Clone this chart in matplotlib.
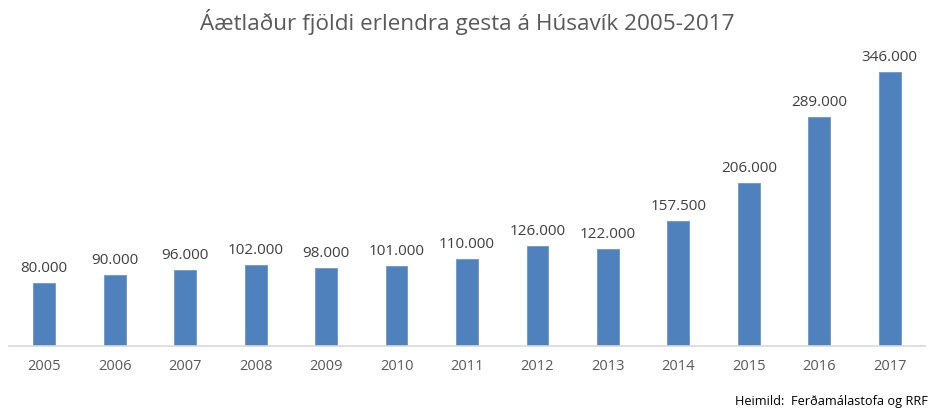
import matplotlib
matplotlib.use('Agg')
import matplotlib.pyplot as plt

# Data
years = ['2005', '2006', '2007', '2008', '2009', '2010', '2011',
         '2012', '2013', '2014', '2015', '2016', '2017']
visitors = [80000, 90000, 96000, 102000, 98000, 101000, 110000,
            126000, 122000, 157500, 206000, 289000, 346000]

plt.rcParams['font.family'] = ['Open Sans', 'DejaVu Sans']

fig = plt.figure(figsize=(9.29, 4.13), dpi=100)
ax = fig.add_axes([9 / 929, 67 / 413, 916 / 929, 301 / 413])

x = range(len(years))
bars = ax.bar(x, visitors, width=0.31, color='#4f81bd', edgecolor='#6d97cb', linewidth=0.6)

# Labels above bars (Icelandic thousands separator)
for xi, v in zip(x, visitors):
    lbl = f'{v:,}'.replace(',', '.')
    ax.annotate(lbl, (xi, v), xytext=(0, 5), textcoords='offset points',
                ha='center', va='bottom', fontsize=11, color='#404040')

ax.set_xlim(-0.5, len(years) - 0.5)
ax.set_ylim(0, 380000)
ax.set_xticks(list(x))
ax.set_xticklabels(years, fontsize=10.5, color='#595959')
ax.tick_params(axis='x', length=0, pad=9)
ax.set_yticks([])
for s in ['top', 'right', 'left']:
    ax.spines[s].set_visible(False)
ax.spines['bottom'].set_color('#d9d9d9')
ax.spines['bottom'].set_linewidth(1.2)

fig.text(0.503, 0.947, 'Áætlaður fjöldi erlendra gesta á Húsavík 2005-2017',
         ha='center', va='center', fontsize=16.2, color='#595959')
fig.text(0.999, 0.027, 'Heimild:  Ferðamálastofa og RRF', ha='right', va='center',
         fontsize=9.2, color='#000000')

fig.savefig('out.png', dpi=100)
